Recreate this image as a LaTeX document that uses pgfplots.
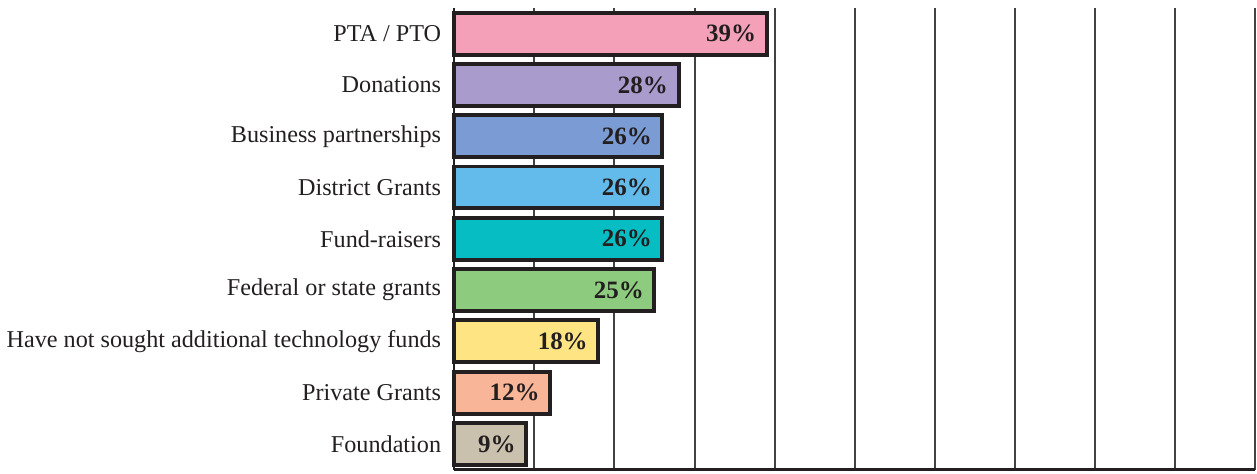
\documentclass[border=0pt]{standalone}
\usepackage{fontspec}
\setmainfont{Liberation Serif}
\usepackage{pgfplots}
\pgfplotsset{compat=1.18}
\definecolor{txt}{HTML}{231F20}
\definecolor{c1}{HTML}{F5A0B9}
\definecolor{c2}{HTML}{A99BCB}
\definecolor{c3}{HTML}{7A9BD3}
\definecolor{c4}{HTML}{62BBEA}
\definecolor{c5}{HTML}{05BDC3}
\definecolor{c6}{HTML}{8DCB7E}
\definecolor{c7}{HTML}{FEE483}
\definecolor{c8}{HTML}{F9B597}
\definecolor{c9}{HTML}{C9C1AE}
\begin{document}
\begin{tikzpicture}
\begin{axis}[
  scale only axis,
  width=401pt, height=231pt,
  xbar, bar width=21pt, bar shift=0pt,
  xmin=0, xmax=100,
  ymin=-0.5, ymax=8.5, y dir=reverse,
  xtick={0,10,...,100}, xticklabels={},
  xticklabel style={overlay},
  ytick={0,...,8},
  yticklabels={PTA / PTO, Donations, Business partnerships, District Grants, Fund-raisers, Federal or state grants, Have not sought additional technology funds, Private Grants, Foundation},
  yticklabel style={font=\fontsize{12.1}{13}\selectfont, text=txt, xshift=-3pt},
  major tick length=0pt,
  xmajorgrids,
  grid style={line width=1pt, color=txt!85},
  axis x line*=bottom, axis y line*=left,
  x axis line style={line width=1.6pt, color=txt},
  y axis line style={line width=1pt, color=txt},
  /pgf/number format/assume math mode=true,
  nodes near coords={\pgfmathprintnumber{\pgfplotspointmeta}\%},
  every node near coord/.append style={anchor=east, xshift=-1pt, font=\bfseries\fontsize{12.5}{13}\selectfont, text=txt},
  every axis plot/.append style={draw=txt, line width=2pt},
  clip=false,
]
\addplot[fill=c1] coordinates {(39,0)};
\addplot[fill=c2] coordinates {(28,1)};
\addplot[fill=c3] coordinates {(26,2)};
\addplot[fill=c4] coordinates {(26,3)};
\addplot[fill=c5] coordinates {(26,4)};
\addplot[fill=c6] coordinates {(25,5)};
\addplot[fill=c7] coordinates {(18,6)};
\addplot[fill=c8] coordinates {(12,7)};
\addplot[fill=c9] coordinates {(9,8)};
\end{axis}
\path ([yshift=4pt]current axis.north) ([yshift=-2pt]current axis.south);
\end{tikzpicture}
\end{document}
